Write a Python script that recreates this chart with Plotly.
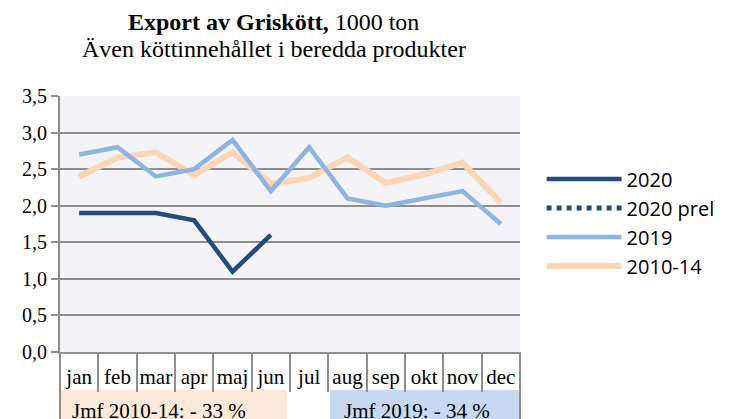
import plotly.graph_objects as go

# Monthly pork exports, 1000 ton
months = ["jan", "feb", "mar", "apr", "maj", "jun", "jul", "aug", "sep", "okt", "nov", "dec"]
exp_2020 = [1.9, 1.9, 1.9, 1.8, 1.1, 1.6, None, None, None, None, None, None]
exp_2020_prel = [None] * 12
exp_2019 = [2.7, 2.8, 2.4, 2.5, 2.9, 2.2, 2.8, 2.1, 2.0, 2.1, 2.2, 1.75]
exp_2010_14 = [2.4, 2.66, 2.73, 2.42, 2.73, 2.3, 2.38, 2.66, 2.31, 2.43, 2.59, 2.04]

y_ticks = [0, 0.5, 1, 1.5, 2, 2.5, 3, 3.5]
y_tick_text = ["0,0", "0,5", "1,0", "1,5", "2,0", "2,5", "3,0", "3,5"]

title_line1 = "<b>Export av Griskött,</b> 1000 ton"
title_line2 = "Även köttinnehållet i beredda produkter"
cmp_text_avg = "Jmf 2010-14: - 33 %"
cmp_text_prev = "Jmf 2019: - 34 %"

C_2020 = "#234B7E"
C_2019 = "#8DB4E2"
C_AVG = "#FCD5B4"
GRID = "#8E8E8E"
SERIF = "Liberation Serif, Times New Roman, serif"
SANS = "Open Sans, sans-serif"

x = list(range(len(months)))

fig = go.Figure()
# average drawn first so it sits behind the yearly lines
fig.add_trace(go.Scatter(x=x, y=exp_2010_14, name="2010-14", mode="lines", legendrank=4,
                         line=dict(color=C_AVG, width=6)))
fig.add_trace(go.Scatter(x=x, y=exp_2019, name="2019", mode="lines", legendrank=3,
                         line=dict(color=C_2019, width=4.5)))
fig.add_trace(go.Scatter(x=x, y=exp_2020, name="2020", mode="lines", legendrank=1,
                         line=dict(color=C_2020, width=4.5)))
fig.add_trace(go.Scatter(x=x, y=exp_2020_prel, name="2020 prel", mode="lines", legendrank=2,
                         line=dict(color=C_2020, width=5, dash="dot"), showlegend=True))

fig.update_layout(
    width=738, height=419,
    margin=dict(l=60, r=218, t=96, b=67),
    paper_bgcolor="white",
    plot_bgcolor="#F4F3F8",
    showlegend=True,
    legend=dict(
        x=1.047, xanchor="left", y=0.752, yanchor="top",
        font=dict(family=SANS, size=20, color="black"),
        itemwidth=75, bgcolor="rgba(0,0,0,0)",
    ),
)

# two-line heading
fig.add_annotation(text=title_line1, xref="paper", yref="paper", x=0.465, y=(352 - 22) / 256,
                   xanchor="center", yanchor="middle", showarrow=False,
                   font=dict(family=SERIF, size=24, color="black"))
fig.add_annotation(text=title_line2, xref="paper", yref="paper", x=0.465, y=(352 - 49) / 256,
                   xanchor="center", yanchor="middle", showarrow=False,
                   font=dict(family=SERIF, size=24, color="black"))

fig.update_xaxes(
    range=[-0.5, 11.5],
    tickvals=x, ticktext=months,
    ticks="outside", ticklen=5, tickcolor="rgba(0,0,0,0)",
    tickfont=dict(family=SERIF, size=21, color="black"),
    showgrid=False, zeroline=False,
    showline=True, linecolor=GRID, linewidth=2,
    minor=dict(tickvals=[i - 0.5 for i in range(len(months) + 1)],
               ticks="outside", ticklen=38, tickcolor=GRID, tickwidth=1.5),
)
fig.update_yaxes(
    range=[0, 3.5],
    tickvals=y_ticks, ticktext=y_tick_text,
    ticks="outside", ticklen=7, tickcolor=GRID, tickwidth=1.5,
    tickfont=dict(family=SERIF, size=20, color="black"),
    showgrid=True, gridcolor=GRID, gridwidth=1.5,
    zeroline=False, showline=True, linecolor=GRID, linewidth=2,
)

# comparison boxes under the month labels
fig.add_shape(type="rect", xref="paper", yref="paper", x0=0, x1=0.493, y0=-0.148, y1=-0.32,
              fillcolor="#FDE9D9", line=dict(width=0), layer="below")
fig.add_shape(type="rect", xref="paper", yref="paper", x0=0.587, x1=1, y0=-0.148, y1=-0.32,
              fillcolor="#C6D9F1", line=dict(width=0), layer="below")
for xp in (0, 1):
    fig.add_shape(type="line", xref="paper", yref="paper", x0=xp, x1=xp, y0=0, y1=-0.32,
                  line=dict(color=GRID, width=2))

fig.add_annotation(text=cmp_text_avg, xref="paper", yref="paper", x=0.022, y=-0.232,
                   xanchor="left", yanchor="middle", showarrow=False,
                   font=dict(family=SERIF, size=21, color="black"))
fig.add_annotation(text=cmp_text_prev, xref="paper", yref="paper", x=0.613, y=-0.232,
                   xanchor="left", yanchor="middle", showarrow=False,
                   font=dict(family=SERIF, size=21, color="black"))

fig.write_html("out.html")
